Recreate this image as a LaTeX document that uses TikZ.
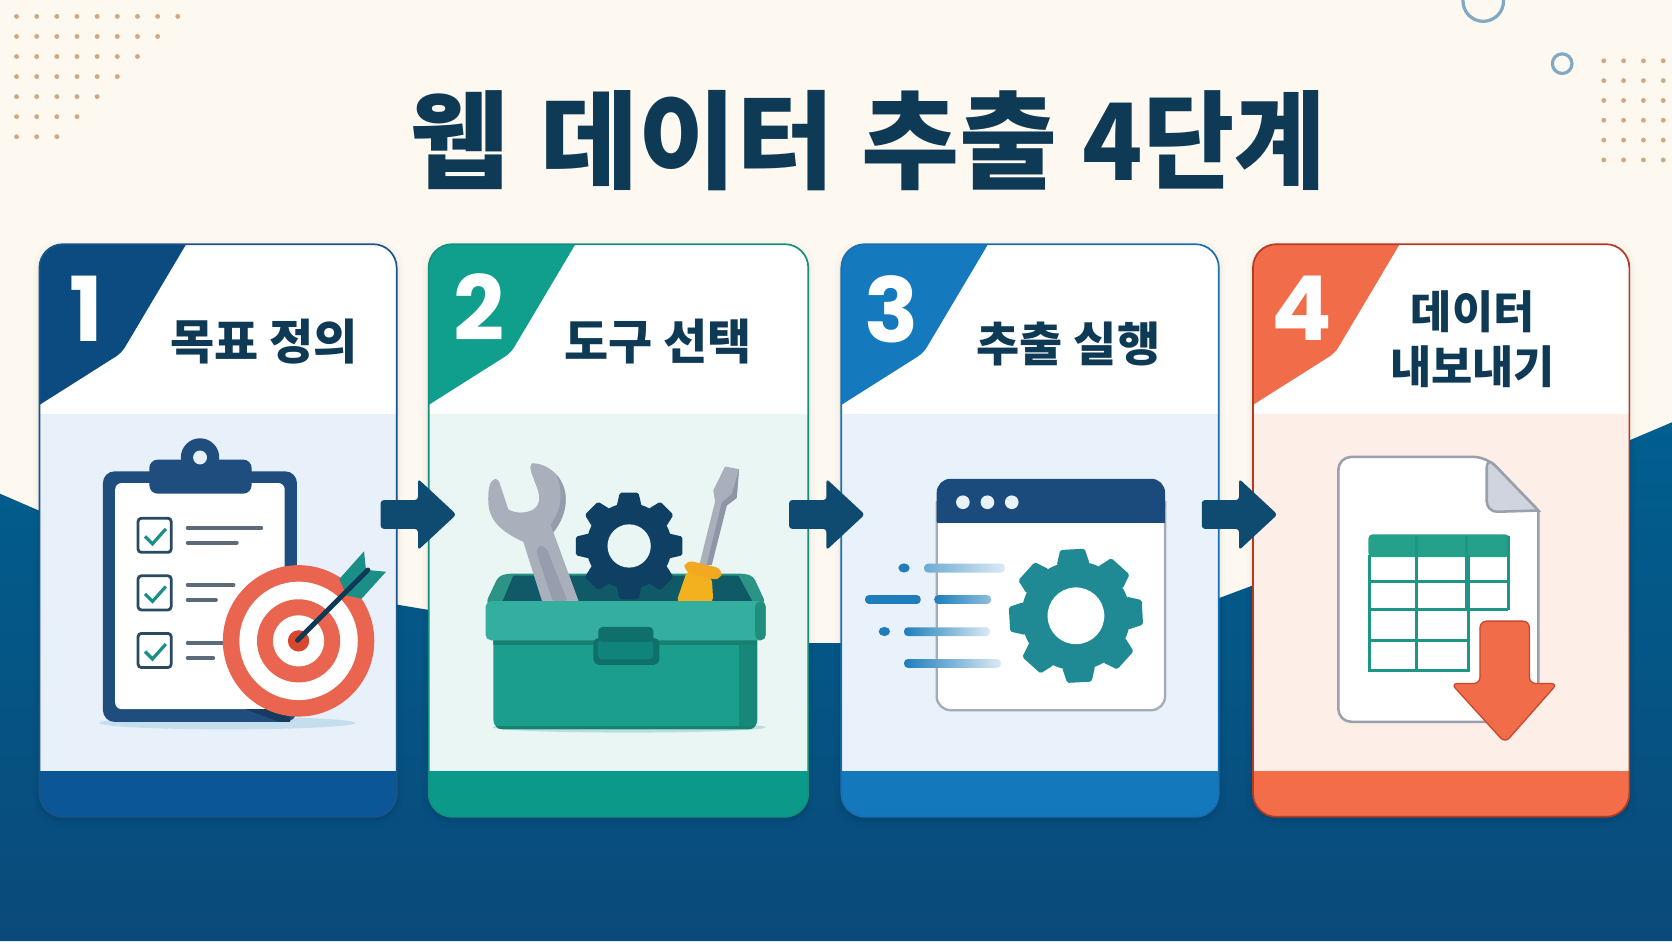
\documentclass[tikz,border=0pt]{standalone}
\usepackage{fontspec}
\usepackage{graphicx}
\usetikzlibrary{calc}
\newfontfamily\krfont{Noto Sans CJK KR}
\newfontfamily\numfont{Poppins}
\definecolor{cream}{HTML}{FEF9F0}
\definecolor{inkblue}{HTML}{0F3A56}
\definecolor{seatop}{HTML}{005F8F}
\definecolor{seabot}{HTML}{0A4A7A}
\definecolor{arrowblue}{HTML}{0F4A70}
\definecolor{dotsand}{HTML}{D4A87E}
\definecolor{ringblue}{HTML}{7FA9C4}
\definecolor{navyA}{HTML}{0B4B80}
\definecolor{navyB}{HTML}{0B5697}
\definecolor{panelA}{HTML}{E8F1FA}
\definecolor{edgeA}{HTML}{1D5488}
\definecolor{tealA}{HTML}{0F9F8C}
\definecolor{tealB}{HTML}{0B9A89}
\definecolor{panelB}{HTML}{E9F6F3}
\definecolor{edgeB}{HTML}{178F7F}
\definecolor{blueA}{HTML}{1579BD}
\definecolor{blueB}{HTML}{1478BC}
\definecolor{panelC}{HTML}{E9F1FA}
\definecolor{edgeC}{HTML}{1A6FAE}
\definecolor{coralA}{HTML}{F16C48}
\definecolor{coralB}{HTML}{F36D49}
\definecolor{panelD}{HTML}{FDEEE8}
\definecolor{edgeD}{HTML}{B53A22}
\definecolor{clipblue}{HTML}{1F4E7E}
\definecolor{clipshade}{HTML}{C4DEEE}
\definecolor{checkteal}{HTML}{1A8F88}
\definecolor{boxink}{HTML}{2A4A62}
\definecolor{linegrey}{HTML}{5B6B7A}
\definecolor{targetred}{HTML}{E9654F}
\definecolor{bullred}{HTML}{D9472F}
\definecolor{steel}{HTML}{A9AFBB}
\definecolor{steeldark}{HTML}{8E95A6}
\definecolor{gearnavy}{HTML}{0F3F63}
\definecolor{boxbody}{HTML}{1C9E8C}
\definecolor{boxside}{HTML}{17877A}
\definecolor{boxlid}{HTML}{34AE9E}
\definecolor{boxedge}{HTML}{18806F}
\definecolor{boxdark}{HTML}{0F5A66}
\definecolor{latchdark}{HTML}{0E6F6B}
\definecolor{latchmid}{HTML}{10837A}
\definecolor{amber}{HTML}{F2A922}
\definecolor{winbar}{HTML}{1A4B7C}
\definecolor{wingrey}{HTML}{A3ACB8}
\definecolor{speedblue}{HTML}{1D7EBB}
\definecolor{speedpale}{HTML}{DCEAF5}
\definecolor{gearteal}{HTML}{1F8A94}
\definecolor{docgrey}{HTML}{9AA1AE}
\definecolor{foldgrey}{HTML}{CFD4DE}
\definecolor{gridteal}{HTML}{1E9685}
\definecolor{headteal}{HTML}{25A08B}
\tikzset{
  cardlabel/.style={inner sep=0pt,text=inkblue,align=center,
    font=\krfont\bfseries\fontsize{45}{51}\selectfont},
  cardnumber/.style={inner sep=0pt,text=white,
    font=\numfont\bfseries\fontsize{84}{84}\selectfont},
  bullet/.style={fill=dotsand},
  ring/.style={draw=ringblue,line width=3pt},
  flowarrow/.style={fill=arrowblue,rounded corners=3pt},
  taskline/.style={draw=linegrey,line width=3.6pt,line cap=round},
  taskbox/.style={draw=boxink,line width=2.6pt,fill=white,rounded corners=3pt},
  tick/.style={draw=checkteal,line width=3pt},
}
% card frame: x1, x2, badge colour, band colour, panel colour, edge colour
\newcommand{\stepcard}[6]{%
  \foreach \g/\o in {6/.015,3/.025,1.5/.03}{
    \fill[black,opacity=\o,rounded corners=24pt]
      ($(#1-\g,229-\g+3)$) rectangle ($(#2+\g,766+\g+3)$);}
  \begin{scope}
    \clip[rounded corners=22pt] (#1,229) rectangle (#2,766);
    \fill[white] (#1,229) rectangle (#2,388);
    \fill[#5] (#1,388) rectangle (#2,723);
    \fill[#4] (#1,723) rectangle (#2,766);
    \fill[#3] (#1-2,227) -- (#1+137,227) -- (#1+137,230) [rounded corners=6pt]
      -- (#1+77,331) [sharp corners] -- (#1-2,381) -- cycle;
  \end{scope}
  \draw[#6,line width=1.6pt,rounded corners=22pt] (#1,229) rectangle (#2,766);
}
% cog: cx, cy, tip radius, root radius, hole radius, tooth width, turn, colour, hole colour
\newcommand{\cog}[9]{%
  \begin{scope}[shift={(#1,#2)},rotate=#7]
    \fill[#8] (0,0) circle[radius=#4];
    \foreach \a in {0,45,...,315}{
      \fill[#8,rounded corners=1.6pt,rotate=\a]
        ({-0.62*#6},{-#4+3}) -- ({-0.46*#6},{-#3}) -- ({0.46*#6},{-#3}) -- ({0.62*#6},{-#4+3}) -- cycle;}
    \fill[#9] (0,0) circle[radius=#5];
  \end{scope}
}
% block arrow between two cards: x of the shaft's left end
\newcommand{\flowarrow}[1]{%
  \fill[flowarrow] (#1,469) -- (#1+35,469) -- (#1+35,449) -- (#1+71,482.5)
    -- (#1+35,516) -- (#1+35,496) -- (#1,496) -- cycle;
}
\begin{document}
\begin{tikzpicture}[x=1pt,y=-1pt]
\useasboundingbox (0,0) rectangle (1568,882.5);
% ground
\fill[cream] (0,0) rectangle (1568,882.5);
\shade[top color=seatop,bottom color=seabot]
  (0,463) -- (37,479) -- (372,567) -- (402,572) -- (758,603) -- (789,603)
  -- (1143,561) -- (1175,549) -- (1528,413) -- (1568,396) -- (1568,882.5) -- (0,882.5) -- cycle;
% corner ornaments
\foreach \j in {0,...,6}{
  \pgfmathtruncatemacro{\last}{8-\j}
  \foreach \i in {0,...,\last}{
    \fill[bullet] ({15.5+18.9*\i},{15.4+18.8*\j}) circle[radius=2.3];}}
\foreach \j in {0,...,5}{\foreach \i in {0,...,3}{
    \fill[bullet] ({1504+18.6*\i},{57+18.6*\j}) circle[radius=2.3];}}
\draw[ring] (1391,1) circle[radius=19];
\draw[ring] (1465,59.7) circle[radius=9.2];
% heading
\node[inner sep=0pt,text=inkblue,font=\krfont\bfseries\fontsize{100}{100}\selectfont] (heading)
  at (814,132) {웹\hspace{30pt}데이터\hspace{25pt}추출\hspace{24pt}\scalebox{0.93}[1]{4단계}};
% cards
\stepcard{37}{372}{navyA}{navyB}{panelA}{edgeA}
\stepcard{402}{758}{tealA}{tealB}{panelB}{edgeB}
\stepcard{789}{1143}{blueA}{blueB}{panelC}{edgeC}
\stepcard{1175}{1528}{coralA}{coralB}{panelD}{edgeD}
\node[cardnumber] (n1) at (80.5,290) {1};
\node[cardnumber] (n2) at (449,288) {2};
\node[cardnumber] (n3) at (836,290) {3};
\node[cardnumber] (n4) at (1221,289) {4};
\node[cardlabel] (t1) at (247.5,320) {목표 정의};
\node[cardlabel] (t2) at (617,320) {도구 선택};
\node[cardlabel,font=\krfont\bfseries\fontsize{44}{51}\selectfont] (t3) at (1002,323) {추출 실행};
\node[cardlabel,font=\krfont\bfseries\fontsize{42}{51}\selectfont] (t4) at (1381,318) {데이터\\내보내기};
% clipboard with target
\fill[clipshade] (213,678) ellipse[x radius=120,y radius=6];
\fill[clipblue,rounded corners=11pt] (96.5,442) rectangle (278.5,677);
\fill[white,rounded corners=6pt] (108,453) rectangle (267,665);
\fill[clipblue] (187.6,429) circle[radius=18];
\fill[clipblue,rounded corners=8pt] (140,431) rectangle (236,463);
\fill[panelA] (187.6,429) circle[radius=6.5];
\foreach \ya/\yb/\ea/\eb in {486/495/245/222,540/548.5/219/202.5,594/603/209/200}{
  \draw[taskbox] (129.5,\ya) rectangle (160.5,\ya+32);
  \draw[tick] (136,\ya+17) -- (143,\ya+24) -- (155.5,\ya+10);
  \draw[taskline] (176,\yb) -- (\ea,\yb);
  \draw[taskline] (176,\yb+14) -- (\eb,\yb+14);
}
\fill[clipblue!75!black] (230,665) -- (270,665) -- (272,677) -- (262,677) -- cycle;
\fill[targetred] (280,601) circle[radius=71];
\fill[white] (280,601) circle[radius=55.5];
\fill[targetred] (280,601) circle[radius=39];
\fill[white] (280,601) circle[radius=24];
\fill[bullred] (280,601) circle[radius=10];
\fill[checkteal] (318.2,543) -- (341.4,517) -- (343.2,534.4) -- (325.1,558.5) -- cycle;
\fill[checkteal] (325.1,558.5) -- (343.2,534.4) -- (362,536.2) -- (339.2,561.4) -- cycle;
\draw[draw=inkblue,line width=4.6pt,line cap=round] (279,600.5) -- (345,534.5);
% toolbox with wrench, cog and screwdriver
\fill[panelB!80!teal] (590,682) ellipse[x radius=128,y radius=5];
\begin{scope}[shift={(393.9,215.7)},x=.3126pt,y=-.3589pt]
  \fill[boxlid!85!black,rounded corners=4pt] (197,975) -- (235,905) -- (260,898) -- (975,898) -- (1000,905) -- (1037,975) -- cycle;
  \fill[boxdark] (245,975) -- (280,903) -- (955,903) -- (1000,975) -- cycle;
\end{scope}
\cog{590}{512}{50}{40}{20.3}{19}{0}{gearnavy}{panelB}
\begin{scope}[shift={(393.9,215.7)},x=.3126pt,y=-.3589pt]
  \fill[steel] (225,650) .. controls (208,655) and (203,680) .. (205,715)
    .. controls (210,765) and (250,790) .. (310,815) -- (368,975) -- (478,975) -- (400,790)
    .. controls (445,740) and (450,680) .. (410,640) .. controls (385,615) and (350,608) .. (335,610)
    .. controls (325,620) and (335,635) .. (345,660) .. controls (360,690) and (365,715) .. (340,730)
    .. controls (315,742) and (285,740) .. (265,730) -- (240,665) .. controls (237,655) and (232,650) .. (225,650) -- cycle;
  \fill[steeldark!75!steel] (410,640) .. controls (450,680) and (445,740) .. (400,790) -- (392,770)
    .. controls (425,730) and (430,690) .. (410,640) -- cycle;
  \fill[steeldark!70!steel,rounded corners=6pt] (345,830) -- (375,822) -- (445,975) -- (400,975) -- cycle;
  \fill[steel] (915,618) -- (957,625) -- (950,700) -- (920,720) -- (875,875) -- (838,875) -- (885,710) -- (880,680) -- cycle;
  \fill[steeldark] (957,625) -- (950,700) -- (920,720) -- (875,875) -- (860,875) -- (905,712) -- (935,690) -- cycle;
  \fill[amber!90!yellow,rounded corners=5pt] (802,888) -- (768,975) -- (880,975) -- (875,905) -- cycle;
  \fill[amber,rounded corners=7pt] (797,862) -- (908,885) -- (900,917) -- (790,892) -- cycle;
  \fill[boxbody,rounded corners=9pt] (220,1040) rectangle (1012,1305);
  \begin{scope}
    \clip[rounded corners=9pt] (220,1040) rectangle (1012,1305);
    \fill[boxside] (958,1040) -- (1012,1040) -- (1012,1305) -- (958,1305) -- cycle;
    \fill[boxedge] (220,1068) rectangle (1012,1085);
    \fill[boxedge] (220,1296) rectangle (1012,1305);
  \end{scope}
  \fill[boxlid,rounded corners=5pt] (197,970) rectangle (1037,1072);
  \fill[boxedge!70!boxlid,rounded corners=5pt] (1005,970) rectangle (1037,1072);
  \fill[latchdark,rounded corners=5pt] (520,1066) rectangle (718,1136);
  \fill[latchmid,rounded corners=4pt] (533,1072) rectangle (700,1122);
  \fill[latchdark,rounded corners=4pt] (535,1037) rectangle (700,1076);
\end{scope}
% browser window with cog and speed lines
\fill[white,rounded corners=13pt] (878.4,449) rectangle (1092.6,666);
\draw[wingrey,line width=2.2pt,rounded corners=13pt] (878.4,470) -- (878.4,666) -- (1092.6,666) -- (1092.6,470);
\fill[winbar,rounded corners=13pt] (878.4,489) -- (878.4,449) -- (1092.6,449) -- (1092.6,489) [sharp corners] -- cycle;
\fill[winbar] (878.4,475) rectangle (1092.6,490.5);
\foreach \cx in {903,926.0,948.8}{\fill[panelC] (\cx,471) circle[radius=6.4];}
\cog{1009}{577.5}{62.4}{51}{26.6}{25}{3}{gearteal}{white}
\begin{scope}[shift={(778.4,215.7)},x=.3126pt,y=-.3589pt]
  \fill[speedblue] (222,883) ellipse[x radius=17,y radius=12];
  \fill[speedblue] (163,1049) ellipse[x radius=17,y radius=12];
  \shade[left color=speedblue!65!white,right color=speedpale,rounded corners=3.6pt] (282,872) rectangle (525,895);
  \fill[speedblue,rounded corners=3.6pt] (105,954) rectangle (272,977);
  \shade[left color=speedblue,right color=speedblue!50!white,rounded corners=3.6pt] (313,954) rectangle (483,977);
  \shade[left color=speedblue,right color=speedpale,rounded corners=3.6pt] (222,1038) rectangle (480,1061);
  \shade[left color=speedblue,right color=speedpale,rounded corners=3.6pt] (222,1121) rectangle (513,1144);
\end{scope}
% spreadsheet file with download arrow
\begin{scope}[shift={(1162.9,215.7)},x=.3126pt,y=-.3589pt]
  \fill[white,draw=docgrey,line width=2.4pt,rounded corners=12pt]
    (295,593) -- (740,593) [sharp corners] -- (895,733) -- (895,1195) -- (790,1285) [rounded corners=12pt] -- (295,1285) -- cycle;
  \fill[foldgrey,draw=docgrey,line width=2.4pt,rounded corners=8pt]
    (740,593) [sharp corners] -- (895,733) [rounded corners=10pt] -- (740,737) -- cycle;
  \fill[headteal,rounded corners=4pt] (385,795) rectangle (808,855);
  \draw[gridteal,line width=2.6pt] (388,850) -- (388,1150) -- (685,1150) -- (685,850);
  \draw[gridteal,line width=2.6pt] (530,800) -- (530,1150);
  \draw[gridteal,line width=2.6pt] (680,800) -- (680,992);
  \draw[gridteal,line width=2.6pt] (805,800) -- (805,992);
  \draw[gridteal,line width=2.6pt] (388,918) -- (805,918);
  \draw[gridteal,line width=2.6pt] (388,992) -- (805,992);
  \draw[gridteal,line width=2.6pt] (388,1072) -- (685,1072);
  \fill[coralA,draw=edgeD!70!coralA,line width=1.2pt,rounded corners=6pt]
    (720,1022) -- (868,1022) -- (868,1185) -- (952,1185) -- (795,1340) -- (633,1185) -- (720,1185) -- cycle;
\end{scope}
% flow arrows
\flowarrow{357}
\flowarrow{740}
\flowarrow{1127}
\end{tikzpicture}
\end{document}
